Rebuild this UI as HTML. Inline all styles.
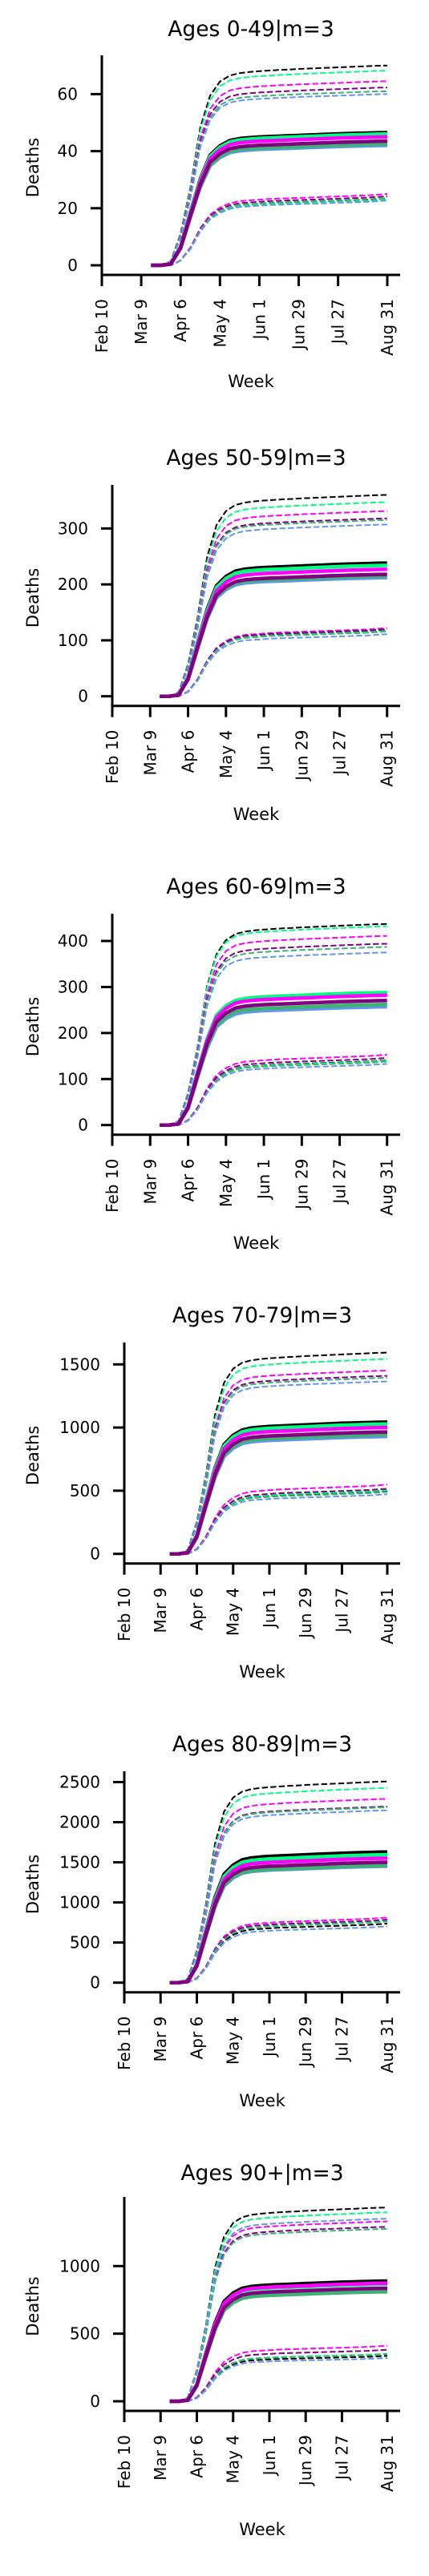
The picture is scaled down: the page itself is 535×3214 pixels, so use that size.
<!DOCTYPE html>
<html><head><meta charset="utf-8">
<style>
html,body{margin:0;padding:0;background:#fff;}
svg{display:block;font-family:"DejaVu Sans","Liberation Sans",sans-serif;}
</style></head>
<body>
<svg id="fig" width="535" height="3214" viewBox="0 0 535 3214" xmlns="http://www.w3.org/2000/svg"></svg>
<script>
// Shared data
const weekTickValues = [0, 4, 8, 12, 16, 20, 24, 29];
const weekTickLabels = ["Feb 10", "Mar 9", "Apr 6", "May 4", "Jun 1", "Jun 29", "Jul 27", "Aug 31"];
const weeks = [5,6,7,8,9,10,11,12,13,14,15,16,17,18,19,20,21,22,23,24,25,26,27,28,29];
// cumulative progress fraction (median, upper, lower bounds)
const medShape = [0,0,0.01,0.14,0.40,0.65,0.83,0.90,0.94,0.955,0.962,0.967,0.97,0.973,0.976,0.979,0.982,0.985,0.988,0.991,0.993,0.995,0.997,0.999,1];
const upShape  = [0,0,0.02,0.16,0.39,0.69,0.85,0.92,0.95,0.962,0.968,0.972,0.975,0.978,0.98,0.983,0.985,0.987,0.989,0.991,0.993,0.995,0.997,0.999,1];
const loShape  = [0,0,0,0.07,0.25,0.52,0.71,0.81,0.87,0.90,0.91,0.92,0.93,0.935,0.94,0.945,0.95,0.955,0.96,0.965,0.97,0.975,0.98,0.99,1];
const seriesNames = ["black","springgreen","magenta","purple","seagreen","cornflower"];
const seriesColors = ["#000000","#00ff7f","#ff00ff","#800080","#3cb371","#6495ed"];
const solidOrder = [5,4,0,1,2,3];

const titles = ["Ages 0-49|m=3","Ages 50-59|m=3","Ages 60-69|m=3","Ages 70-79|m=3","Ages 80-89|m=3","Ages 90+|m=3"];
const yTicks = [[0,20,40,60],[0,100,200,300],[0,100,200,300,400],[0,500,1000,1500],[0,500,1000,1500,2000,2500],[0,500,1000]];
// final values per series (black, springgreen, magenta, purple, seagreen, cornflower)
const medFinal = [[46.5,46,45,43.5,42.5,42],[238,234,227,218,215,212],[286,288,282,270.5,262,257],[1043,1028,1001,965,944,929],[1628,1595,1551,1501,1461,1451],[889,866,873,836,810,822]];
const upFinal  = [[70,68.2,64.5,62.3,61,60],[360,347,331,318,315,307],[437,432,411,394,387,375],[1593,1542,1451,1409,1394,1365],[2507,2427,2290,2194,2184,2147],[1433,1397,1330,1290,1275,1350]];
const loFinal  = [[23.5,23,25,24.2,23.6,22.7],[119,117,122,120,116,111],[141,140,153,146,138,133],[500,505,548,516,490,472],[736,769,812,786,762,702],[336,352,411,381,348,320]];

// layout (pixel geometry)
const layout = [
 {left:127, right:499, top:69,   bottom:343,  xEnd:483,   y0:331,    k:3.56,   off:0},
 {left:140, right:499, top:605,  bottom:880.7,xEnd:482.7, y0:868.7,  k:0.6978, off:535},
 {left:140, right:499, top:1140, bottom:1415.7,xEnd:482.7,y0:1403.7, k:0.5742, off:1070},
 {left:155, right:499, top:1675, bottom:1950.7,xEnd:483,  y0:1938.7, k:0.1576, off:1605},
 {left:155, right:499, top:2210, bottom:2485.7,xEnd:483,  y0:2473.7, k:0.1001, off:2140},
 {left:155, right:499, top:2741, bottom:3008, xEnd:483,   y0:2996,   k:0.1687, off:2675}
];
const NS = "http://www.w3.org/2000/svg";
const fig = document.getElementById("fig");
function mk(tag, attrs, parent){
  const e = document.createElementNS(NS, tag);
  for (const a in attrs) e.setAttribute(a, attrs[a]);
  parent.appendChild(e);
  return e;
}
layout.forEach((L, p) => {
  const g = mk("g", {}, fig);
  
  
  const xs = w => L.left + w * (L.xEnd - L.left) / 29;
  const ys = v => L.y0 - v * L.k;
  const cx = (L.left + L.right) / 2;
  const t = mk("text", {x: cx, y: L.off + 45, "text-anchor": "middle", "font-size": 26.5, fill: "#000"}, g);
  t.textContent = titles[p];
  
  
  const drawLine = (shape, finals, dashed, si, kind) => {
    const pts = weeks.map((w, i) => xs(w).toFixed(2) + "," + ys(finals[si] * shape[i]).toFixed(2)).join(" ");
    const pl = mk("polyline", {points: pts, fill: "none", stroke: seriesColors[si],
      "stroke-width": dashed ? 2 : 4.5, "stroke-linejoin": "round",
      "stroke-dasharray": dashed ? "7.4,3.2" : "none"}, g);
    
    
  };
  for (let si = 0; si < 6; si++) { drawLine(upShape, upFinal[p], true, si, 'upper'); drawLine(loShape, loFinal[p], true, si, 'lower'); }
  solidOrder.forEach(si => drawLine(medShape, medFinal[p], false, si, 'median'));
  const ly = mk("line", {x1: L.left, y1: L.top, x2: L.left, y2: L.bottom + 1.5, stroke: "#000", "stroke-width": 3}, g);
  
  
  const lx = mk("line", {x1: L.left - 1.5, y1: L.bottom, x2: L.right, y2: L.bottom, stroke: "#000", "stroke-width": 3}, g);
  
  
  yTicks[p].forEach(v => {
    const y = ys(v);
    const tk = mk("line", {x1: L.left - 14, y1: y, x2: L.left, y2: y, stroke: "#000", "stroke-width": 3}, g);
    
    
    const tl = mk("text", {x: L.left - 30, y: y + 7, "text-anchor": "end", "font-size": 20, fill: "#000"}, g);
    tl.textContent = String(v);
    
    
  });
  weekTickValues.forEach((w, i) => {
    const x = xs(w);
    const tk = mk("line", {x1: x, y1: L.bottom, x2: x, y2: L.bottom + 14, stroke: "#000", "stroke-width": 3}, g);
    
    
    const ty = L.bottom + 30;
    const tl = mk("text", {x: x + 7, y: ty, "text-anchor": "end", "font-size": 20, fill: "#000",
      transform: "rotate(-90 " + (x + 7) + " " + ty + ")"}, g);
    tl.textContent = weekTickLabels[i];
    
    
  });
  const yl = (L.top + L.bottom) / 2 + 3;
  const yt = mk("text", {x: 48, y: yl, "text-anchor": "middle", "font-size": 21, fill: "#000",
    transform: "rotate(-90 48 " + yl + ")"}, g);
  yt.textContent = "Deaths";
  
  
  const xt = mk("text", {x: cx, y: L.off + 483 + (p === 0 ? 0 : 5), "text-anchor": "middle", "font-size": 21, fill: "#000"}, g);
  xt.textContent = "Week";
  
  
});
</script>
</body></html>
